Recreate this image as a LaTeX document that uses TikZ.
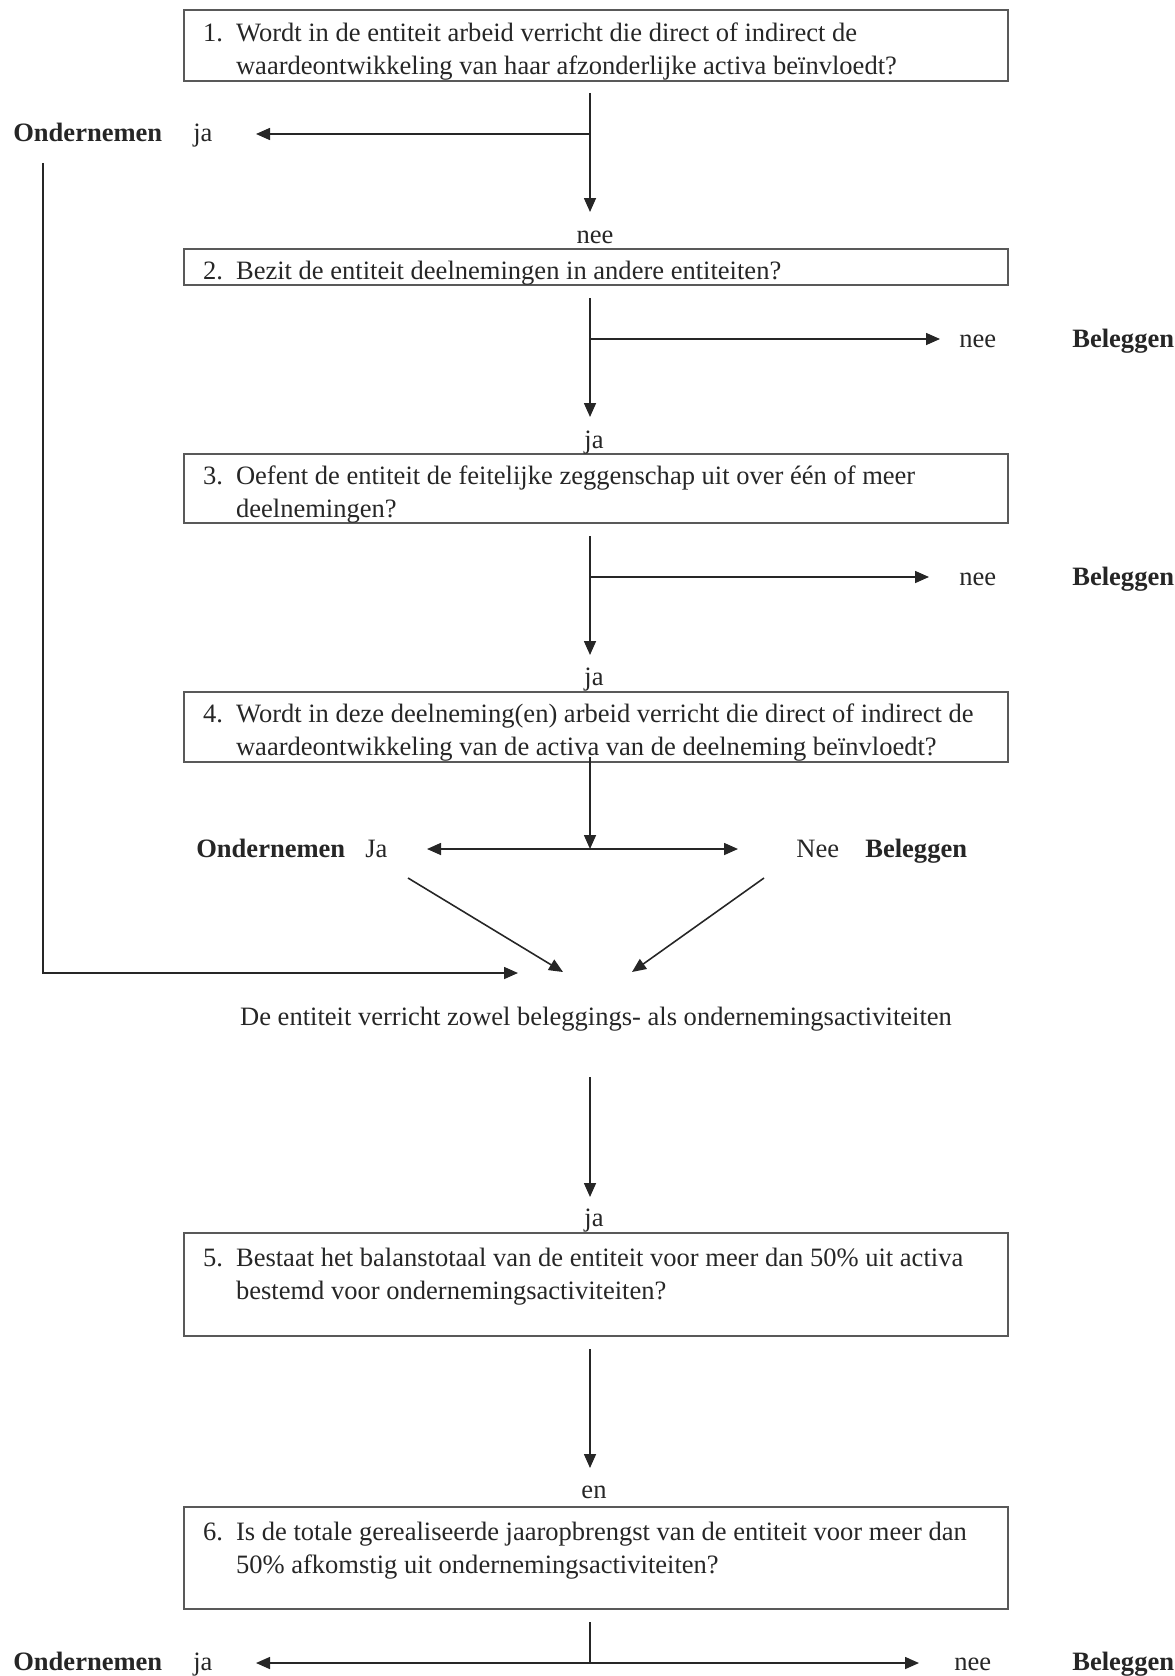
\documentclass[tikz,border=0pt]{standalone}
\usepackage{fontspec}
\setmainfont{Liberation Serif}
\usepackage{tikz}
\usetikzlibrary{arrows.meta, positioning}
\tikzset{>={Triangle[length=0.28cm, width=0.24cm]}}
\tikzset{
	vraag/.style={draw=black!65, line width=0.9pt, inner xsep=0.38cm, inner ysep=0pt, text width=15.72cm, align=flush left, text=black!85},
	tekst/.style={inner sep=0pt, anchor=base west, text=black!85},
	keuze/.style={tekst, font=\fontsize{15.1}{18.8}\selectfont\bfseries},
	pijl/.style={->, line width=0.9pt, draw=black!85}
}
\newcommand{\nr}[1]{\rule{0pt}{1.15em}\makebox[0.66cm][l]{#1}}
\newcommand{\insp}{\hspace*{0.66cm}}

\begin{document}
\begin{tikzpicture}[x=0.02cm, y=-0.02cm, font=\fontsize{15.1}{18.8}\selectfont]
	\useasboundingbox (0,0) rectangle (1174,1676);

	% vragen
	\node[vraag, minimum height=1.42cm] (q1) at (596,45.5) {\nr{1.}Wordt in de entiteit arbeid verricht die direct of indirect de\\\insp waardeontwikkeling van haar afzonderlijke activa beïnvloedt?};
	\node[vraag, minimum height=0.72cm] (q2) at (596,267) {\nr{2.}Bezit de entiteit deelnemingen in andere entiteiten?};
	\node[vraag, minimum height=1.38cm] (q3) at (596,488.5) {\nr{3.}Oefent de entiteit de feitelijke zeggenschap uit over één of meer\\\insp deelnemingen?};
	\node[vraag, minimum height=1.40cm] (q4) at (596,727) {\nr{4.}Wordt in deze deelneming(en) arbeid verricht die direct of indirect de\\\insp waardeontwikkeling van de activa van de deelneming beïnvloedt?};
	\node[vraag, minimum height=2.06cm] (q5) at (596,1284.5) {\nr{5.}Bestaat het balanstotaal van de entiteit voor meer dan 50\% uit activa\\\insp bestemd voor ondernemingsactiviteiten?\\\mbox{}};
	\node[vraag, minimum height=2.04cm] (q6) at (596,1558) {\nr{6.}Is de totale gerealiseerde jaaropbrengst van de entiteit voor meer dan\\\insp 50\% afkomstig uit ondernemingsactiviteiten?\\\mbox{}};

	% antwoorden
	\node[keuze] (ond1) at (13,142) {Ondernemen};
	\node[tekst] (ja1) at (193,142) {ja};
	\node[tekst, anchor=base] (nee1) at (595,243) {nee};
	\node[tekst] (nee2) at (959,347) {nee};
	\node[keuze] (bel2) at (1072,347) {Beleggen};
	\node[tekst, anchor=base] (ja2) at (594,448) {ja};
	\node[tekst] (nee3) at (959,585) {nee};
	\node[keuze] (bel3) at (1072,585) {Beleggen};
	\node[tekst, anchor=base] (ja3) at (594,685) {ja};
	\node[keuze] (ond4) at (196,857) {Ondernemen};
	\node[tekst] (ja4) at (365,857) {Ja};
	\node[tekst] (nee4) at (796,857) {Nee};
	\node[keuze] (bel4) at (865,857) {Beleggen};
	\node[tekst, anchor=base] (beide) at (596,1025) {De entiteit verricht zowel beleggings- als ondernemingsactiviteiten};
	\node[tekst, anchor=base] (ja5) at (594,1226) {ja};
	\node[tekst, anchor=base] (en6) at (594,1498) {en};
	\node[keuze] (ond6) at (13,1670) {Ondernemen};
	\node[tekst] (ja6) at (193,1670) {ja};
	\node[tekst] (nee6) at (954,1670) {nee};
	\node[keuze] (bel6) at (1072,1670) {Beleggen};

	% punten voor de pijlen
	\coordinate (v1) at (590,93);   \coordinate (v1j) at (590,134);  \coordinate (v1e) at (590,212);
	\coordinate (v1l) at (256,134);
	\coordinate (v2) at (590,298);  \coordinate (v2j) at (590,339);  \coordinate (v2e) at (590,417);
	\coordinate (v2r) at (940,339);
	\coordinate (v3) at (590,536);  \coordinate (v3j) at (590,577);  \coordinate (v3e) at (590,655);
	\coordinate (v3r) at (929,577);
	\coordinate (v4) at (590,757);  \coordinate (v4e) at (590,849);
	\coordinate (v4l) at (427,849); \coordinate (v4r) at (738,849);
	\coordinate (d1) at (408,878);  \coordinate (d1e) at (563,972);
	\coordinate (d2) at (764,878);  \coordinate (d2e) at (632,972);
	\coordinate (o1) at (43,163);   \coordinate (o1e) at (518,973);
	\coordinate (v5) at (590,1077); \coordinate (v5e) at (590,1197);
	\coordinate (v6) at (590,1349); \coordinate (v6e) at (590,1468);
	\coordinate (v7) at (590,1622); \coordinate (v7j) at (590,1663);
	\coordinate (v7l) at (256,1663); \coordinate (v7r) at (919,1663);

	\draw[pijl] (v1) -- (v1e);
	\draw[pijl] (v1j) -- (v1l);
	\draw[pijl] (v2) -- (v2e);
	\draw[pijl] (v2j) -- (v2r);
	\draw[pijl] (v3) -- (v3e);
	\draw[pijl] (v3j) -- (v3r);
	\draw[pijl] (v4) -- (v4e);
	\draw[pijl, <->] (v4l) -- (v4r);
	\draw[pijl] (d1) -- (d1e);
	\draw[pijl] (d2) -- (d2e);
	\draw[pijl] (o1) |- (o1e);
	\draw[pijl] (v5) -- (v5e);
	\draw[pijl] (v6) -- (v6e);
	\draw[pijl, -] (v7) -- (v7j);
	\draw[pijl, <->] (v7l) -- (v7r);
\end{tikzpicture}
\end{document}
